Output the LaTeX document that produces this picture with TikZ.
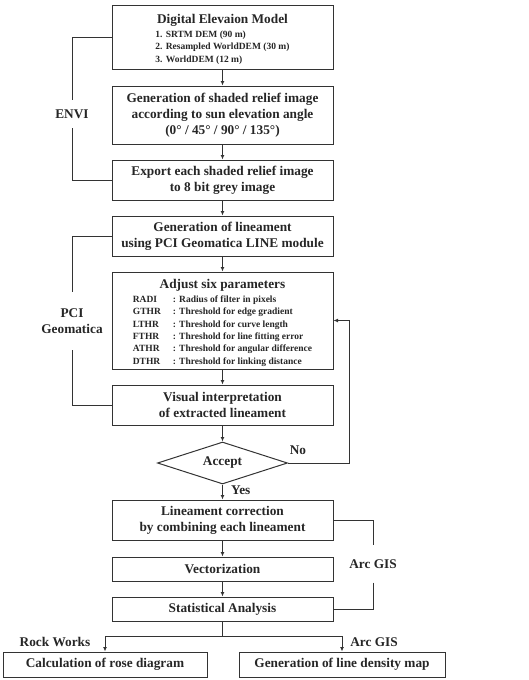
\documentclass[tikz,border=0pt]{standalone}
\usepackage{fontspec}
\setmainfont{Liberation Serif}
\usepackage{tikz}
\usetikzlibrary{calc}
\usetikzlibrary{positioning}
\usetikzlibrary{shapes.geometric}
\usetikzlibrary{arrows.meta}

\begin{document}
\begin{tikzpicture}[x=1pt, y=-1pt,
		box/.style={draw=black!80, line width=1pt, inner sep=0pt, align=center, text=black!85, font=\fontsize{13.3}{16}\selectfont\bfseries},
		kado/.style={diamond, draw=black!80, line width=1pt, inner sep=0pt, aspect=3, minimum width=130pt, minimum height=42pt, text=black!85, font=\fontsize{13.3}{16}\selectfont\bfseries},
		lab/.style={inner sep=0pt, align=center, text=black!85, font=\fontsize{13.3}{16}\selectfont\bfseries},
		sen/.style={draw=black!80, line width=1pt},
		ya/.style={draw=black!80, line width=1pt, -{Latex[length=4.5pt, width=4pt]}}]
		\newcommand\hako[6]{
			% (name, x, y, w, h, text)
			\node[box, minimum width=#4, minimum height=#5] (#1) at (#2, #3) {#6};
		}
		\newcommand\komoji{\fontsize{9.5}{12.3}\selectfont}
		
		\useasboundingbox (0, 0) rectangle (529, 680);
		
		\hako{b1}{222.5}{37}{221pt}{64pt}{\rule{0pt}{15pt}Digital Elevaion Model\\[2pt]
			{\komoji\begin{tabular}{@{}l@{}}1. SRTM DEM (90 m)\\2. Resampled WorldDEM (30 m)\\3. WorldDEM (12 m)\end{tabular}}}
		\hako{b2}{222.5}{115}{221pt}{58pt}{Generation of shaded relief image\\according to sun elevation angle\\(0° / 45° / 90° / 135°)}
		\hako{b3}{222.5}{180}{221pt}{40pt}{Export each shaded relief image\\to 8 bit grey image}
		\hako{b4}{222.5}{236}{221pt}{40pt}{Generation of lineament\\using PCI Geomatica LINE module}
		\hako{b5}{222.5}{320.5}{221pt}{97pt}{\rule{0pt}{15pt}Adjust six parameters\\[2pt]
			{\komoji\begin{tabular}{@{}l@{}}
				\makebox[40pt][l]{RADI}: Radius of filter in pixels\\
				\makebox[40pt][l]{GTHR}: Threshold for edge gradient\\
				\makebox[40pt][l]{LTHR}: Threshold for curve length\\
				\makebox[40pt][l]{FTHR}: Threshold for line fitting error\\
				\makebox[40pt][l]{ATHR}: Threshold for angular difference\\
				\makebox[40pt][l]{DTHR}: Threshold for linking distance
			\end{tabular}}}
		\hako{b6}{222.5}{405}{221pt}{40pt}{Visual interpretation\\of extracted lineament}
		\node[kado] (acc) at (222.5, 463) {Accept};
		\hako{b7}{222.5}{520}{221pt}{40pt}{Lineament correction\\by combining each lineament}
		\hako{b8}{222.5}{569}{221pt}{24pt}{Vectorization}
		\hako{b9}{222.5}{609}{221pt}{24pt}{Statistical Analysis}
		\hako{b10}{105}{664.5}{204pt}{25pt}{Calculation of rose diagram}
		\hako{b11}{342}{664.5}{206pt}{25pt}{Generation of line density map}
		
		% flow
		\draw[ya] (b1) -- (b2);
		\draw[ya] (b2) -- (b3);
		\draw[ya] (b3) -- (b4);
		\draw[ya] (b4) -- (b5);
		\draw[ya] (b5) -- (b6);
		\draw[ya] (b6) -- (acc);
		\draw[ya] (acc) -- (b7);
		\draw[ya] (b7) -- (b8);
		\draw[ya] (b8) -- (b9);
		\node[lab, anchor=west] (yes) at (231, 490) {Yes};
		
		\coordinate (no) at (349, 463);
		\draw[ya] (acc.east) -- (no) |- (b5.east);
		\node[lab] (nolab) at (298, 450) {No};
		
		\coordinate (wake) at (222.5, 636);
		\draw[sen] (b9) -- (wake);
		\draw[ya] (wake) -| (b10.north);
		\draw[ya] (wake) -| (b11.north);
		\node[lab] (rock) at (55, 642) {Rock Works};
		\node[lab] (arc2) at (374, 642) {Arc GIS};
		
		% software
		\node[lab, minimum height=28pt] (envi) at (72, 114) {ENVI};
		\draw[sen] (b1.west) -| (envi.north);
		\draw[sen] (envi.south) |- (b3.west);
		
		\node[lab, minimum height=58pt] (pci) at (72, 321) {PCI\\Geomatica};
		\draw[sen] (b4.west) -| (pci.north);
		\draw[sen] (pci.south) |- (b6.west);
		
		\node[lab, minimum height=37pt] (arc) at (373, 564) {Arc GIS};
		\draw[sen] (b7.east) -| (arc.north);
		\draw[sen] (arc.south) |- (b9.east);
		
	\end{tikzpicture}
\end{document}
